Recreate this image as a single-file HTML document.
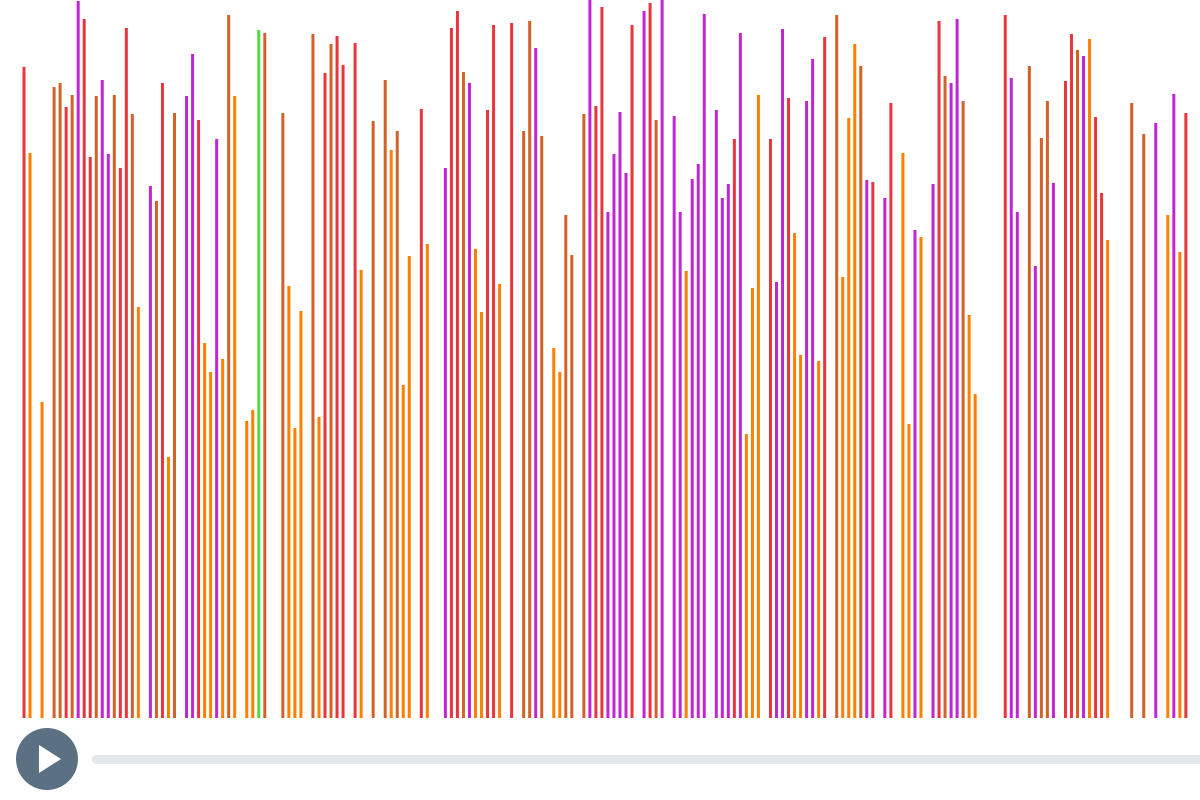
<!DOCTYPE html>
<html><head><meta charset="utf-8"><style>
html,body{margin:0;padding:0;background:#fff;width:1200px;height:800px;overflow:hidden;font-family:"Liberation Sans",sans-serif}
svg{display:block}
</style></head><body>
<svg id="chart" width="1200" height="800">
<g id="bars"></g>
<g>
<circle cx="47" cy="759" r="31" fill="#5b7083"/>
<polygon points="39,745 39,773 61,759" fill="#fff"/>
</g>
<rect x="92" y="755" width="1120" height="9" rx="4.5" fill="#e3e7eb"/>
</svg>
<script>
const slots=[0,1,3,5,6,7,8,9,10,11,12,13,14,15,16,17,18,19,21,22,23,24,25,27,28,29,30,31,32,33,34,35,37,38,39,40,43,44,45,46,48,
49,50,51,52,53,55,56,58,60,61,62,63,64,66,67,70,71,72,73,74,75,76,77,78,79,81,83,84,85,86,88,89,90,91,93,94,95,96,97,
98,99,100,101,103,104,105,106,108,109,110,111,112,113,115,116,117,118,119,120,121,122,124,125,126,127,128,129,130,131,132,133,135,136,137,138,139,140,141,143,144,146,
147,148,149,151,152,153,154,155,156,157,158,163,164,165,167,168,169,170,171,173,174,175,176,177,178,179,180,184,186,188,190,191,192,193];
const values=[651,565,316,631,635,611,623,717,699,561,622,638,564,623,550,690,604,411,532,517,635,261,605,622,664,598,375,346,579,359,703,622,297,308,688,685,605,432,290,407,684,
301,645,674,682,653,675,448,597,638,568,587,333,462,609,474,550,690,707,646,635,469,406,608,693,434,695,587,697,670,582,370,346,503,463,604,718,612,711,506,
564,606,545,693,707,715,598,718,602,506,447,539,554,704,608,520,534,579,685,284,430,623,579,436,689,620,485,363,617,659,357,681,703,441,600,674,652,538,536,520,615,565,
294,488,481,534,697,642,635,699,617,403,324,703,640,506,652,452,580,617,535,637,684,668,662,679,601,525,478,615,584,595,503,624,466,605];
const series=("ROOCCRCPRRCPPCRRCOPCROCPPROOPOCOOOGCCOOOC"+
"ORCRRROCCOCOORO"+"PRRCP"+"OORRO"+"RCCPC"+"OOCCC"+"PRRP"+
"PPPR"+"PRCP"+"PPOPPP"+"PPPRPOOO"+"RPPROOPPOR"+"COOOCPR"+"PRO"+
"OPO"+"PRCPPCOO"+"RPP"+"CPCCP"+"RRCPORRO"+"CCP"+"OPOR").split("");
const palette={R:"#e8363c",O:"#ff8000",C:"#d2622a",P:"#c026d3",G:"#4fdc3a"};
const xScale=s=>24+6.02*s;
const yScale=v=>718-v;
const g=document.getElementById("bars");
for(let i=0;i<slots.length;i++){
  const r=document.createElementNS("http://www.w3.org/2000/svg","rect");
  const x=xScale(slots[i]),y=yScale(values[i]);
  r.setAttribute("x",(x-1.5).toFixed(2));
  r.setAttribute("y",y.toFixed(2));
  r.setAttribute("width","3");
  r.setAttribute("height",(718-y).toFixed(2));
  r.setAttribute("fill",palette[series[i]]||"#e8363c");
  
  
  g.appendChild(r);
}
</script>
</body></html>
